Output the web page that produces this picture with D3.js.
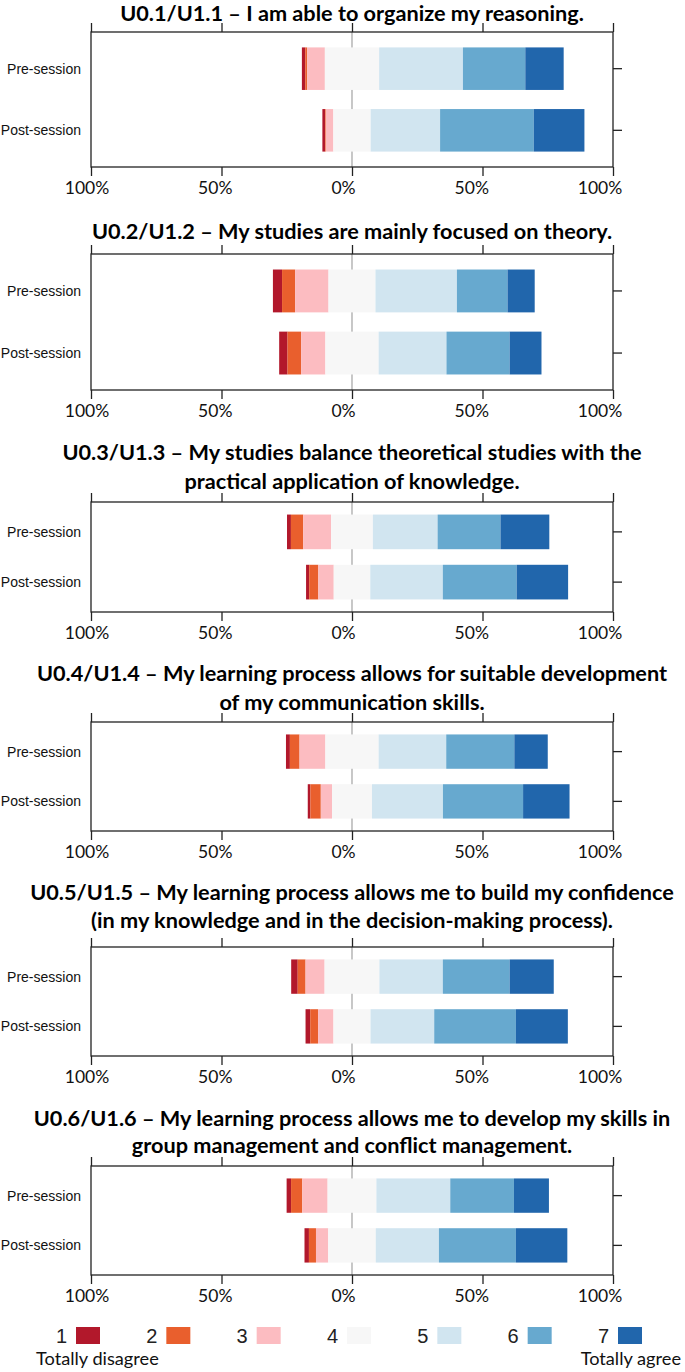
<!DOCTYPE html>
<html>
<head>
<meta charset="utf-8">
<script src="https://cdn.jsdelivr.net/npm/d3@7"></script>
<style>
    body { margin: 0; background: #fff; }
    svg { display: block; }
</style>
</head>
<body>
<div id="chart_parent"></div>
<script>
// Likert responses (%), levels 1..7, per question
const rows = ['Pre-session', 'Post-session'];
const titles = [
    ['U0.1/U1.1 \u2013 I am able to organize my reasoning.'],
    ['U0.2/U1.2 \u2013 My studies are mainly focused on theory.'],
    ['U0.3/U1.3 \u2013 My studies balance theoretical studies with the', 'practical application of knowledge.'],
    ['U0.4/U1.4 \u2013 My learning process allows for suitable development', 'of my communication skills.'],
    ['U0.5/U1.5 \u2013 My learning process allows me to build my confidence', '(in my knowledge and in the decision-making process).'],
    ['U0.6/U1.6 \u2013 My learning process allows me to develop my skills in', 'group management and conflict management.'],
];
const preSession = [
    [1.3, 0.7, 6.8, 20.8, 32.1, 23.9, 14.7],
    [3.5, 5.0, 12.8, 18.0, 31.2, 19.4, 10.4],
    [1.5, 4.7, 10.7, 16.0, 24.8, 24.1, 18.7],
    [1.5, 3.7, 9.9, 20.4, 25.9, 26.1, 12.8],
    [2.5, 3.0, 7.3, 21.0, 24.3, 25.6, 16.9],
    [1.7, 4.3, 9.7, 18.7, 28.3, 24.4, 13.4],
];
const postSession = [
    [1.0, 0.3, 2.9, 14.3, 26.6, 35.9, 19.4],
    [3.2, 5.2, 9.3, 20.4, 26.0, 24.2, 12.2],
    [1.2, 3.5, 5.9, 14.0, 27.8, 28.3, 19.7],
    [1.0, 4.0, 4.3, 15.3, 27.2, 30.7, 17.8],
    [1.8, 3.0, 5.9, 14.2, 24.4, 31.3, 19.9],
    [1.7, 2.7, 4.7, 18.2, 24.2, 29.5, 19.7],
];
const levels = ['1', '2', '3', '4', '5', '6', '7'];
const xTicks = [-100, -50, 0, 50, 100];
const xTickLabels = ['100%', '50%', '0%', '50%', '100%'];

const colors = ['#b2182b', '#e95f2d', '#fcbcc1', '#f7f7f7', '#d1e5f0', '#67a9cf', '#2166ac'];

// frame top/bottom and title line centres for each panel
const panels = [
    { top: 32, bottom: 167, titleY: [13] },
    { top: 254, bottom: 390, titleY: [231] },
    { top: 502, bottom: 612, titleY: [452, 481] },
    { top: 722, bottom: 831, titleY: [673, 702] },
    { top: 947, bottom: 1056, titleY: [892, 920] },
    { top: 1166, bottom: 1275, titleY: [1118, 1145] },
];

const W = 685, H = 1372;
const left = 91, right = 613;

const svg = d3.select('#chart_parent').append('svg')
    .attr('width', W)
    .attr('height', H);

const x = d3.scaleLinear().domain([-100, 100]).range([left, right]);
// tick labels sit slightly left of their ticks in the original
const xLabel = d3.scaleLinear().domain([-100, 100]).range([87, 600]);
const color = d3.scaleOrdinal().domain(levels).range(colors);

function stackRow(values) {
    let start = -(values[0] + values[1] + values[2] + values[3] / 2);
    return values.map((v, i) => {
        const seg = { level: levels[i], x0: start, x1: start + v };
        start += v;
        return seg;
    });
}

function drawPanel(i) {
    const p = panels[i];
    const g = svg.append('g').attr('class', 'panel');

    titles[i].forEach((line, k) => {
        g.append('text')
            .attr('x', x(0))
            .attr('y', p.titleY[k])
            .attr('dy', '0.35em')
            .attr('text-anchor', 'middle')
            .style('font-family', 'Lato, sans-serif')
            .style('font-weight', 700)
            .style('font-size', '21.7px')
            .style('fill', '#000')
            .text(line);
    });

    const y = d3.scaleBand().domain(rows).range([p.top, p.bottom])
        .paddingInner(0.31)
        .paddingOuter(0.25);

    g.append('line')
        .attr('x1', x(0)).attr('x2', x(0))
        .attr('y1', p.top).attr('y2', p.bottom)
        .attr('stroke', '#aaa')
        .attr('stroke-width', 1.3);

    const data = [
        { row: rows[0], segs: stackRow(preSession[i]) },
        { row: rows[1], segs: stackRow(postSession[i]) },
    ];

    const bars = g.selectAll('.bar')
        .data(data)
        .enter()
        .append('g')
        .attr('class', 'bar')
        .attr('transform', d => `translate(0,${y(d.row)})`);

    bars.selectAll('rect')
        .data(d => d.segs)
        .enter()
        .append('rect')
        .attr('x', s => x(s.x0))
        .attr('width', s => x(s.x1) - x(s.x0))
        .attr('height', y.bandwidth())
        .attr('fill', s => color(s.level));

    g.append('rect')
        .attr('x', left).attr('y', p.top)
        .attr('width', right - left).attr('height', p.bottom - p.top)
        .attr('fill', 'none')
        .attr('stroke', '#222')
        .attr('stroke-width', 1.3);

    const tickStyle = sel => {
        sel.select('.domain').remove();
        sel.selectAll('line').attr('stroke', '#222').attr('stroke-width', 1.3);
        sel.selectAll('text').remove();
    };

    g.append('g')
        .attr('transform', `translate(0,${p.top})`)
        .call(d3.axisTop(x).tickValues(xTicks).tickSize(9))
        .call(tickStyle);

    g.append('g')
        .attr('transform', `translate(0,${p.bottom})`)
        .call(d3.axisBottom(x).tickValues(xTicks).tickSize(9))
        .call(tickStyle);

    g.append('g')
        .attr('transform', `translate(${right},0)`)
        .call(d3.axisRight(y).tickSize(9))
        .call(tickStyle);

    g.selectAll('.xlab')
        .data(xTicks)
        .enter()
        .append('text')
        .attr('class', 'xlab')
        .attr('x', d => xLabel(d))
        .attr('y', p.bottom + 21)
        .attr('dy', '0.35em')
        .attr('text-anchor', 'middle')
        .style('font-family', 'Lato, sans-serif')
        .style('font-size', '17.5px')
        .style('fill', '#111')
        .text((d, k) => xTickLabels[k]);

    g.selectAll('.ylab')
        .data(rows)
        .enter()
        .append('text')
        .attr('class', 'ylab')
        .attr('x', 81)
        .attr('y', d => y(d) + y.bandwidth() / 2)
        .attr('dy', '0.35em')
        .attr('text-anchor', 'end')
        .style('font-family', '"Liberation Sans", Arial, sans-serif')
        .style('font-size', '14px')
        .style('fill', '#111')
        .text(d => d);
}

panels.forEach((p, i) => drawPanel(i));

// legend
const legendX = d3.scalePoint().domain(levels).range([76, 618]);
const legend = svg.append('g').attr('class', 'legend');

const items = legend.selectAll('.item')
    .data(levels)
    .enter()
    .append('g')
    .attr('class', 'item')
    .attr('transform', d => `translate(${legendX(d)},1327)`);

items.append('rect')
    .attr('width', 24)
    .attr('height', 17)
    .attr('fill', d => color(d));

items.append('text')
    .attr('x', -9)
    .attr('y', 8.5)
    .attr('dy', '0.35em')
    .attr('text-anchor', 'end')
    .style('font-family', '"Liberation Sans", Arial, sans-serif')
    .style('font-size', '20px')
    .style('fill', '#222')
    .text(d => d);

legend.append('text')
    .attr('x', 36)
    .attr('y', 1365)
    .style('font-family', 'Lato, sans-serif')
    .style('font-size', '18.2px')
    .style('fill', '#111')
    .text('Totally disagree');

legend.append('text')
    .attr('x', 681)
    .attr('y', 1365)
    .attr('text-anchor', 'end')
    .style('font-family', 'Lato, sans-serif')
    .style('font-size', '18.2px')
    .style('fill', '#111')
    .text('Totally agree');
</script>
</body>
</html>
